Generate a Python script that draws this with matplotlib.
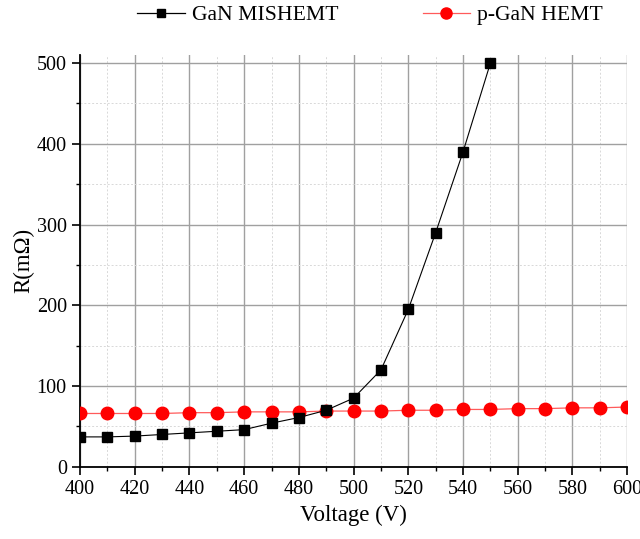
import numpy as np
import matplotlib.pyplot as plt
from matplotlib.lines import Line2D
from matplotlib.ticker import MultipleLocator

plt.rcParams['font.family'] = ['Liberation Serif', 'DejaVu Serif']

# Voltage sweep (V)
volt_mis = [400, 410, 420, 430, 440, 450, 460, 470, 480, 490,
            500, 510, 520, 530, 540, 550]
volt_pgan = [400, 410, 420, 430, 440, 450, 460, 470, 480, 490, 500,
             510, 520, 530, 540, 550, 560, 570, 580, 590, 600]

# On-resistance (mOhm)
r_mis = [37, 37, 38, 40, 42, 44, 46, 54, 61, 70,
         85, 120, 195, 290, 390, 500]
r_pgan = [66, 66, 66, 66, 67, 67, 68, 68, 68, 69, 69,
          69, 70, 70, 71, 71, 72, 72, 73, 73, 74]

fig = plt.figure(figsize=(6.4, 5.39), dpi=100)
ax = fig.add_axes([0.125, 0.134, 0.855, 0.764])

ax.plot(volt_mis, r_mis, color='black', lw=0.8, marker='s', ms=7.5,
        label='GaN MISHEMT', zorder=4)
ax.plot(volt_pgan, r_pgan, color='#ff5a5a', lw=0.9, marker='o', ms=9,
        mfc='red', mec='red', label='p-GaN HEMT', zorder=3)

ax.set_xlim(400, 600)
ax.set_ylim(0, 510)
ax.xaxis.set_major_locator(MultipleLocator(20))
ax.xaxis.set_minor_locator(MultipleLocator(10))
ax.yaxis.set_major_locator(MultipleLocator(100))
ax.yaxis.set_minor_locator(MultipleLocator(50))

ax.grid(which='major', color='#a0a0a0', lw=1.0, ls='-')
ax.grid(which='minor', color='#d8d8d8', lw=0.7, ls=(0, (2, 2)))
ax.set_axisbelow(True)

for side in ('top', 'right'):
    ax.spines[side].set_visible(False)
ax.spines['left'].set_linewidth(1.3)
ax.spines['bottom'].set_linewidth(1.3)
ax.tick_params(which='major', direction='out', length=6, width=1.2,
               labelsize=14.5)
ax.tick_params(which='minor', direction='out', length=3, width=1.0)

ax.set_xlabel('Voltage (V)', fontsize=16.5)
ax.set_ylabel('R(mΩ)', fontsize=16.5, labelpad=2)

# legend proxies: smaller square than in the plot
leg_handles = [
    Line2D([], [], color='black', lw=0.9, marker='s', ms=5.5),
    Line2D([], [], color='#ff5a5a', lw=0.9, marker='o', ms=8,
           mfc='red', mec='red'),
]
leg_labels = [h.get_label() for h in ax.get_lines()]
fig.legend(leg_handles, leg_labels, loc='center left',
           bbox_to_anchor=(0.214, 0.972), ncol=2, frameon=False,
           fontsize=15.6, handlelength=2.2, columnspacing=3.9,
           handletextpad=0.32, borderaxespad=0, borderpad=0)

fig.savefig('out.png', dpi=100)
